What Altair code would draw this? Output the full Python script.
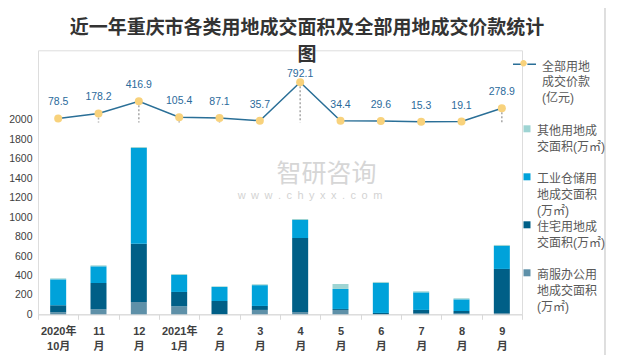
import altair as alt
import pandas as pd

months = ["2020年|10月", "11|月", "12|月", "2021年|1月", "2|月", "3|月",
          "4|月", "5|月", "6|月", "7|月", "8|月", "9|月"]
commercial = [21, 51, 127, 82, 2, 45, 24, 45, 2, 10, 8, 12]
residential = [72, 271, 600, 148, 135, 41, 762, 10, 12, 35, 26, 455]
industrial = [267, 172, 985, 175, 144, 214, 185, 206, 309, 181, 120, 236]
other = [10, 10, 10, 10, 7, 9, 10, 51, 10, 11, 11, 11]
price = [78.5, 178.2, 416.9, 105.4, 87.1, 35.7, 792.1, 34.4, 29.6, 15.3, 19.1, 278.9]

# stacking order bottom -> top
series_names = ["商服办公用|地成交面积|(万㎡)", "住宅用地成|交面积(万㎡)|",
                "工业仓储用|地成交面积|(万㎡)", "其他用地成|交面积(万㎡)|"]
series_values = [commercial, residential, industrial, other]
series_colors = ["#5E90A8", "#005F87", "#00A2DA", "#9ED4D3"]
price_name = "全部用地|成交价款|(亿元)"
price_name_pt = "全部用地|成交价款|(亿元) "

rows = []
for k, (name, vals) in enumerate(zip(series_names, series_values)):
    for m, v in zip(months, vals):
        rows.append({"month": m, "series": name, "value": v, "ord": k})
bars_df = pd.DataFrame(rows)
price_df = pd.DataFrame({"month": months, "price": price,
                         "pname": [price_name] * len(months),
                         "pname2": [price_name_pt] * len(months)})

FONT = "Liberation Sans, Noto Sans CJK SC"
LH = 15.7
SQ_PATH = "M-1,-1.714H1V0.286H-1Z"
LINE_PATH = "M-1,-0.217H-0.25M0.25,-0.217H1"
CIRC_PATH = "M-0.28,-0.217A0.28,0.28,0,1,1,0.28,-0.217A0.28,0.28,0,1,1,-0.28,-0.217Z"

x_enc = alt.X("month:N", sort=months,
              scale=alt.Scale(paddingInner=0, paddingOuter=0),
              axis=alt.Axis(title=None, labelExpr="split(datum.label, '|')", labelAngle=0,
                            labelFont=FONT, labelFontSize=11, labelFontWeight="bold",
                            labelColor="#404040", labelLineHeight=15,
                            domainColor="#D9D9D9", tickColor="#D9D9D9", tickSize=5,
                            tickBand="extent", labelPadding=6))

legend_domain = list(reversed(series_names))
legend_range = list(reversed(series_colors))

bars = alt.Chart(bars_df).mark_bar(size=16).encode(
    x=x_enc,
    y=alt.Y("value:Q", stack="zero",
            scale=alt.Scale(domain=[0, 2717.4], nice=False),
            axis=alt.Axis(values=list(range(0, 2001, 200)), format="d", title=None, domain=False,
                          ticks=False, grid=False, labelFont=FONT, labelFontSize=10.5,
                          labelColor="#404040", labelPadding=6)),
    color=alt.Color("series:N",
                    scale=alt.Scale(domain=legend_domain, range=legend_range),
                    legend=alt.Legend(orient="none", legendX=483, legendY=75, title=None,
                                      symbolType=SQ_PATH, symbolSize=49, symbolStrokeWidth=0,
                                      labelExpr="split(datum.label, '|')",
                                      labelFont=FONT, labelFontSize=12, labelColor="#595959",
                                      labelOffset=4, rowPadding=4, padding=0)),
    order=alt.Order("ord:Q", sort="ascending"),
)

y_price = alt.Y("price:Q", scale=alt.Scale(domain=[-3776, 1421], nice=False, zero=False), axis=None)
x_plain = alt.X("month:N", sort=months)

drops = alt.Chart(price_df).mark_rule(color="#A6A6A6", strokeDash=[2, 2], strokeWidth=1.5).encode(
    x=x_plain, y=y_price, y2=alt.datum(0))

line = alt.Chart(price_df).mark_line(strokeWidth=1.5).encode(
    x=x_plain, y=y_price,
    stroke=alt.Stroke("pname:N", scale=alt.Scale(domain=[price_name], range=["#2A6F97"]),
                      legend=alt.Legend(orient="none", legendX=474, legendY=4, title=None,
                                        symbolType=LINE_PATH, symbolSize=529, symbolStrokeWidth=1.5,
                                        labelExpr="split(datum.label, '|')",
                                        labelFont=FONT, labelFontSize=12, labelColor="#595959",
                                        labelOffset=5, padding=0)))

points = alt.Chart(price_df).mark_circle(size=64, opacity=1).encode(
    x=x_plain, y=y_price,
    fill=alt.Fill("pname2:N", scale=alt.Scale(domain=[price_name_pt], range=["#F8D27C"]),
                  legend=alt.Legend(orient="none", legendX=474, legendY=4, title=None,
                                    symbolType=CIRC_PATH, symbolSize=529, symbolStrokeWidth=0,
                                    labelExpr="['', '', '']",
                                    labelFont=FONT, labelFontSize=12,
                                    labelOffset=5, padding=0)))

labels = alt.Chart(price_df).mark_text(dy=-16, font=FONT, fontSize=10.5, color="#2B6A9B").encode(
    x=x_plain, y=y_price, text=alt.Text("price:Q", format=".1f")
).transform_filter(alt.datum.price < 700)

labels_top = alt.Chart(price_df).mark_text(dy=-8, font=FONT, fontSize=10.5, color="#2B6A9B").encode(
    x=x_plain, y=y_price, text=alt.Text("price:Q", format=".1f")
).transform_filter(alt.datum.price >= 700)

price_layer = alt.layer(drops, line, points, labels, labels_top)

wm_df = pd.DataFrame({"t1": ["智研咨询"], "t2": ["w\u2002w\u2002w\u2002.\u2002c\u2002h\u2002y\u2002x\u2002x\u2002.\u2002c\u2002o\u2002m"]})
wm1 = alt.Chart(wm_df).mark_text(font="Noto Sans CJK SC", fontSize=25, color="#D6D6D6").encode(
    x=alt.value(288.5), y=alt.value(123.5), text="t1:N")
wm2 = alt.Chart(wm_df).mark_text(font=FONT, fontSize=11, color="#D3D3D3").encode(
    x=alt.value(272), y=alt.value(145.5), text="t2:N")

border = alt.Chart(wm_df).mark_rule(color="#BFBFBF", strokeWidth=1).encode(
    x=alt.value(567), y=alt.value(-50), y2=alt.value(320))

chart = alt.layer(wm1, wm2, bars, price_layer, border).resolve_scale(y="independent").properties(
    width=484, height=264,
    autosize="none",
    padding={"left": 30, "top": 42.3, "right": 86, "bottom": 41},
    title=alt.TitleParams(text=["近一年重庆市各类用地成交面积及全部用地成交价款统计", "图"],
                          font="Noto Sans CJK SC", fontSize=19, fontWeight="bold",
                          color="#333333", anchor="middle", dx=27, dy=53, offset=-12, lineHeight=27),
).configure_view(stroke=None).configure(background="white", style={"guide-label": {"lineHeight": LH}})

chart.save("out.html", embed_options={"renderer": "svg", "actions": False})
